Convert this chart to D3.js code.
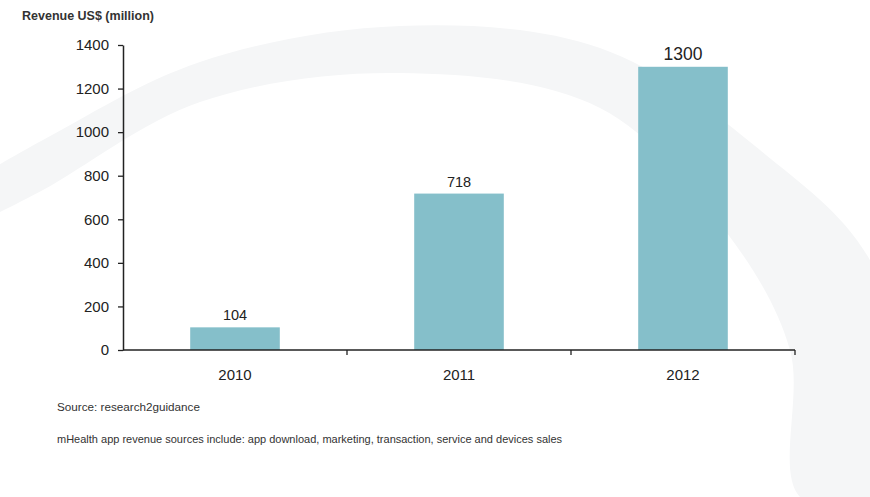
<!DOCTYPE html>
<html>
<head>
<meta charset="utf-8">
<script src="https://cdn.jsdelivr.net/npm/d3@7/dist/d3.min.js"></script>
<style>
  html, body { margin: 0; padding: 0; background: #fff; }
  svg { display: block; }
  text { font-family: "Liberation Sans", Arial, sans-serif; }
</style>
</head>
<body>
<svg id="chart" width="870" height="497"></svg>
<script>
// Annual mHealth app revenue, US$ million
const years = ["2010", "2011", "2012"];
const revenue = [104, 718, 1300];
const yTicks = [0, 200, 400, 600, 800, 1000, 1200, 1400];

const width = 870, height = 497;
const margin = { top: 45, right: 75, bottom: 147, left: 123 };
const innerW = width - margin.left - margin.right;
const innerH = height - margin.top - margin.bottom;

const svg = d3.select("#chart");

// faint decorative swoosh behind the plot
const outerEdge = [[-20, 176], [43, 140], [200, 62], [400, 26], [600, 48], [760, 150], [875, 270], [905, 510]];
const innerEdge = [[905, 510], [800, 497], [790, 350], [727, 233], [600, 108], [400, 73], [200, 102], [43, 190], [-20, 222]];
const swoosh = d3.line().curve(d3.curveCatmullRom.alpha(0.5));
svg.append("path")
  .attr("d", swoosh(outerEdge) + "L" + swoosh(innerEdge).slice(1) + "Z")
  .attr("fill", "#f5f6f7");

const g = svg.append("g").attr("transform", `translate(${margin.left},${margin.top})`);

const x = d3.scaleBand().domain(years).range([0, innerW]).paddingInner(0.6).paddingOuter(0.3);
const y = d3.scaleLinear().domain([0, 1400]).range([innerH, 0]);

// bars
g.selectAll("rect.bar")
  .data(years)
  .join("rect")
  .attr("class", "bar")
  .attr("x", d => x(d))
  .attr("width", x.bandwidth())
  .attr("y", (d, i) => y(revenue[i]))
  .attr("height", (d, i) => innerH - y(revenue[i]))
  .attr("fill", "#85bfca");

// value labels
g.selectAll("text.val")
  .data(years)
  .join("text")
  .attr("class", "val")
  .attr("x", d => x(d) + x.bandwidth() / 2)
  .attr("y", (d, i) => y(revenue[i]) - 7)
  .attr("text-anchor", "middle")
  .attr("fill", "#222")
  .attr("font-size", (d, i) => revenue[i] >= 1000 ? 17.5 : 14.5)
  .text((d, i) => revenue[i]);

// y axis
const yAxis = g.append("g")
  .call(d3.axisLeft(y).tickValues(yTicks).tickFormat(d3.format("d"))
    .tickSize(5).tickPadding(9).tickSizeOuter(0));
yAxis.select(".domain").attr("stroke", "#222").attr("stroke-width", 1.5);
yAxis.selectAll(".tick line").attr("stroke", "#222").attr("stroke-width", 1.3);
yAxis.selectAll(".tick text")
  .attr("font-size", 15)
  .attr("fill", "#222")
  .style("font-family", "'Liberation Sans', Arial, sans-serif");

// x axis: baseline with ticks on the category boundaries
const xAxis = g.append("g").attr("transform", `translate(0,${innerH})`);
xAxis.append("line")
  .attr("x1", 0).attr("x2", innerW)
  .attr("stroke", "#222").attr("stroke-width", 1.5);
const bounds = years.map((d, i) => x(d) - x.step() * x.paddingInner() / 2).slice(1).concat([innerW]);
xAxis.selectAll("line.bound")
  .data(bounds)
  .join("line")
  .attr("class", "bound")
  .attr("x1", d => d).attr("x2", d => d)
  .attr("y1", 0).attr("y2", 5)
  .attr("stroke", "#222").attr("stroke-width", 1.3);
const xLabels = g.append("g").attr("transform", `translate(0,${innerH})`)
  .call(d3.axisBottom(x).tickSize(0).tickPadding(19));
xLabels.select(".domain").remove();
xLabels.selectAll(".tick text")
  .attr("font-size", 15)
  .attr("fill", "#222")
  .style("font-family", "'Liberation Sans', Arial, sans-serif");

// titles and notes
svg.append("text")
  .attr("x", 22).attr("y", 20)
  .attr("font-size", 12.5).attr("font-weight", "bold").attr("fill", "#333")
  .text("Revenue US$ (million)");

svg.append("text")
  .attr("x", 57).attr("y", 411)
  .attr("font-size", 11.7).attr("fill", "#333")
  .text("Source: research2guidance");

svg.append("text")
  .attr("x", 57).attr("y", 443)
  .attr("font-size", 11).attr("fill", "#333")
  .text("mHealth app revenue sources include: app download, marketing, transaction, service and devices sales");
</script>
</body>
</html>
